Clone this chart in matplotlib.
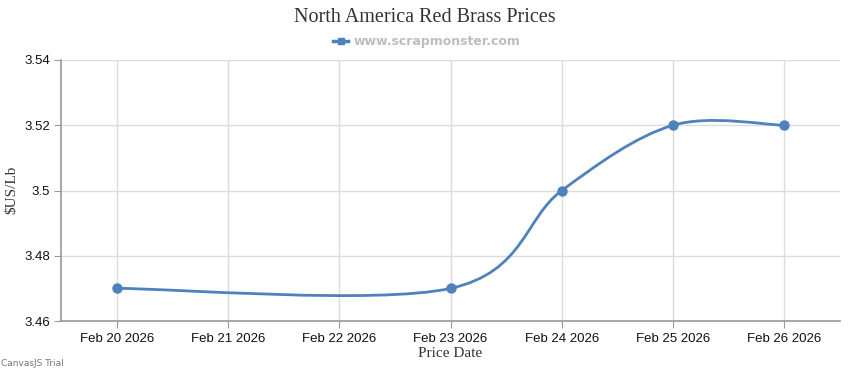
import numpy as np
import matplotlib
matplotlib.use("Agg")
import matplotlib.pyplot as plt
import matplotlib.dates as mdates
from matplotlib.path import Path
from matplotlib.patches import PathPatch
from matplotlib.lines import Line2D
from datetime import datetime as dt

# data
price_dates = ["2026-02-20", "2026-02-23", "2026-02-24", "2026-02-25", "2026-02-26"]
prices = [3.47, 3.47, 3.50, 3.52, 3.52]
tick_dates = ["2026-02-20", "2026-02-21", "2026-02-22", "2026-02-23",
              "2026-02-24", "2026-02-25", "2026-02-26"]
y_ticks = [3.46, 3.48, 3.50, 3.52, 3.54]
y_tick_labels = ["3.46", "3.48", "3.5", "3.52", "3.54"]

blue = "#4F81BC"
grid_c = "#dcdcdc"
axis_c = "#9a9a9a"

x = mdates.date2num([dt.strptime(d, "%Y-%m-%d") for d in price_dates])
y = np.array(prices)
xt = mdates.date2num([dt.strptime(d, "%Y-%m-%d") for d in tick_dates])

# spline like canvasjs (catmull-rom bezier, tension 2)
def bezier_path(px, py, tension=2.0):
    n = len(px)
    verts = [(px[0], py[0])]
    codes = [Path.MOVETO]
    for i in range(1, n):
        a = i - 1
        i1 = 0 if a == 0 else a - 1
        i2 = a if a == n - 1 else a + 1
        c1 = (px[a] + (px[i2] - px[i1]) / tension / 3, py[a] + (py[i2] - py[i1]) / tension / 3)
        b = i
        i1 = 0 if b == 0 else b - 1
        i2 = b if b == n - 1 else b + 1
        c2 = (px[b] - (px[i2] - px[i1]) / tension / 3, py[b] - (py[i2] - py[i1]) / tension / 3)
        verts += [c1, c2, (px[b], py[b])]
        codes += [Path.CURVE4] * 3
    return Path(verts, codes)

fig = plt.figure(figsize=(8.5, 3.7), dpi=100)
ax = fig.add_axes([61/850, 1-321/370, (840-61)/850, (321-60)/370])

ax.add_patch(PathPatch(bezier_path(x, y), facecolor="none", edgecolor=blue, lw=2, zorder=3))
ax.plot(x, y, "o", color=blue, ms=6.5, zorder=4)

ax.set_xlim(xt[0] - 0.5, xt[-1] + 0.5)
ax.set_ylim(3.46, 3.54)
ax.set_xticks(xt)
ax.set_xticklabels([dt.strptime(d, "%Y-%m-%d").strftime("%b %d %Y") for d in tick_dates],
                   family="Liberation Sans")
ax.set_yticks(y_ticks)
ax.set_yticklabels(y_tick_labels, family="Liberation Sans")
ax.grid(True, color=grid_c, lw=1)
ax.set_axisbelow(True)
for s in ["top", "right"]:
    ax.spines[s].set_visible(False)
for s in ["left", "bottom"]:
    ax.spines[s].set_color(axis_c)
    ax.spines[s].set_linewidth(1.2)
ax.tick_params(axis="x", length=5, color=axis_c, labelsize=9.5, labelcolor="#111111", pad=4)
ax.tick_params(axis="y", length=5, color=axis_c, labelsize=9.5, labelcolor="#111111", pad=3)

ax.set_xlabel("Price Date", family="Liberation Serif", fontsize=11, color="#333333", labelpad=1)
fig.text(12/850, 1-190/370, r"\$US/Lb", family="Liberation Serif", fontsize=11,
         color="#333333", rotation=90, ha="center", va="center")

fig.text(0.5, 1-17/370, "North America Red Brass Prices", family="Liberation Serif",
         fontsize=14.5, color="#333333", ha="center", va="center")

# legend
fig.add_artist(Line2D([333/850, 348/850], [1-41/370]*2, color=blue, lw=2.5))
fig.add_artist(Line2D([340.5/850], [1-41/370], color=blue, marker="s", ms=5, lw=0))
fig.text(354/850, 1-41/370, "www.scrapmonster.com", fontsize=9, fontweight="bold",
         color="#bdbdbd", ha="left", va="center")

fig.text(1/850, 1-363/370, "CanvasJS Trial", fontsize=6.5, color="#777777", ha="left", va="center")

fig.savefig("out.png", dpi=100)
